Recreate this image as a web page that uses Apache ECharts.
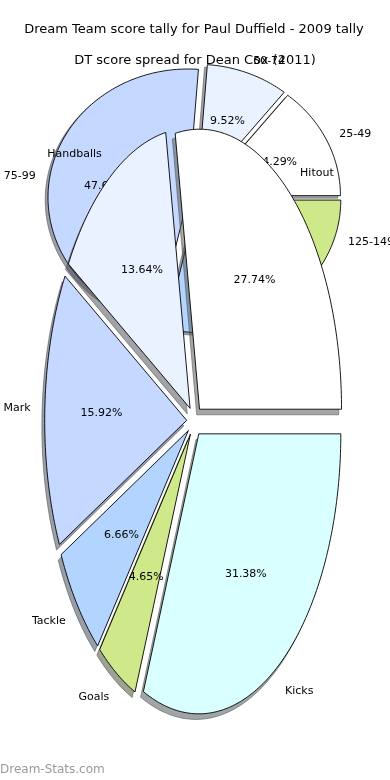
<!DOCTYPE html>
<html><head><meta charset="utf-8">
<script src="https://cdn.jsdelivr.net/npm/echarts@6/dist/echarts.min.js"></script>
<style>html,body{margin:0;padding:0;background:#fff}#c{width:390px;height:780px}</style>
</head><body><div id="c"></div>
<script>
const title1 = 'Dream Team score tally for Paul Duffield - 2009 tally';
const title2 = 'DT score spread for Dean Cox (2011)';
const statCategories = ['Hitout', 'Handballs', 'Mark', 'Tackle', 'Goals', 'Kicks'];
const statValues = [27.74, 13.64, 15.92, 6.66, 4.65, 31.38];
const rangeCategories = ['25-49', '50-74', '75-99', '100-124', '125-149'];
const rangeValues = [14.29, 9.52, 47.62, 19.05, 9.52];
const sliceColors = ['#ffffff', '#eaf1ff', '#c5d8ff', '#b3d4ff', '#cfe98a', '#d9ffff'];
const watermark = 'Dream-Stats.com';

const FONT = '"DejaVu Sans", sans-serif';

function shadowColor(hex) {
  const r = parseInt(hex.substr(1, 2), 16), g = parseInt(hex.substr(3, 2), 16), b = parseInt(hex.substr(5, 2), 16);
  return 'rgba(' + Math.round(r * 0.3) + ',' + Math.round(g * 0.3) + ',' + Math.round(b * 0.3) + ',0.5)';
}

function makeRender(values, labels, explode) {
  const total = values.reduce((a, b) => a + b, 0);
  return function (params, api) {
    const i = params.dataIndex;
    let start = 0;
    for (let k = 0; k < i; k++) start += values[k];
    const v = api.value(1);
    const t0 = start / total * 2 * Math.PI;
    const t1 = (start + v) / total * 2 * Math.PI;
    const tm = (t0 + t1) / 2;
    const ox = explode * Math.cos(tm), oy = explode * Math.sin(tm);
    const n = Math.max(2, Math.ceil((t1 - t0) / (Math.PI / 180)));
    const pts = [api.coord([ox, oy])];
    const sh = [api.coord([ox - 0.02, oy - 0.02])];
    for (let j = 0; j <= n; j++) {
      const t = t0 + (t1 - t0) * j / n;
      pts.push(api.coord([ox + Math.cos(t), oy + Math.sin(t)]));
      sh.push(api.coord([ox - 0.02 + Math.cos(t), oy - 0.02 + Math.sin(t)]));
    }
    const col = sliceColors[i % sliceColors.length];
    const lxd = ox + 1.1 * Math.cos(tm), lyd = oy + 1.1 * Math.sin(tm);
    const lp = api.coord([lxd, lyd]);
    const pp = api.coord([ox + 0.6 * Math.cos(tm), oy + 0.6 * Math.sin(tm)]);
    return {
      type: 'group',
      children: [
        { type: 'polygon', z2: 0, shape: { points: sh }, style: { fill: shadowColor(col), stroke: shadowColor(col), lineWidth: 1 } },
        { type: 'polygon', z2: 10, shape: { points: pts }, style: { fill: col, stroke: '#000', lineWidth: 0.9 } },
        { type: 'text', z2: 20, style: { text: labels[i], x: lp[0], y: lp[1], align: lxd > 0 ? 'left' : 'right', verticalAlign: 'middle', fill: '#000', font: '11px ' + FONT } },
        { type: 'text', z2: 20, style: { text: v.toFixed(2) + '%', x: pp[0], y: pp[1], align: 'center', verticalAlign: 'middle', fill: '#000', font: '11px ' + FONT } }
      ]
    };
  };
}

const chart = echarts.init(document.getElementById('c'), null, { renderer: 'canvas' });
chart.setOption({
  animation: false,
  backgroundColor: '#ffffff',
  grid: [
    { left: 52.5, top: 141, width: 284, height: 560 },
    { left: 54.5, top: 69.9, width: 280, height: 256.8 }
  ],
  xAxis: [
    { type: 'value', gridIndex: 0, min: -1, max: 1, show: false },
    { type: 'value', gridIndex: 1, min: -1, max: 1, show: false }
  ],
  yAxis: [
    { type: 'value', gridIndex: 0, min: -1, max: 1, show: false },
    { type: 'value', gridIndex: 1, min: -1, max: 1, show: false }
  ],
  graphic: [
    { type: 'text', x: 194, y: 30, style: { text: title1, align: 'center', verticalAlign: 'middle', fill: '#000', font: '13px ' + FONT } },
    { type: 'text', x: 195, y: 61, style: { text: title2, align: 'center', verticalAlign: 'middle', fill: '#000', font: '13px ' + FONT } },
    { type: 'text', x: 0, y: 770, style: { text: watermark, align: 'left', verticalAlign: 'middle', fill: '#9a9a9a', font: '12px ' + FONT } }
  ],
  series: [
    {
      type: 'custom', name: 'Dean Cox 2011', xAxisIndex: 1, yAxisIndex: 1, z: 2, clip: false,
      renderItem: makeRender(rangeValues, rangeCategories, 0.047),
      data: rangeValues.map((v, i) => [i, v])
    },
    {
      type: 'custom', name: 'Paul Duffield 2009', xAxisIndex: 0, yAxisIndex: 0, z: 3, clip: false,
      renderItem: makeRender(statValues, statCategories, 0.055),
      data: statValues.map((v, i) => [i, v])
    }
  ]
});
</script></body></html>
